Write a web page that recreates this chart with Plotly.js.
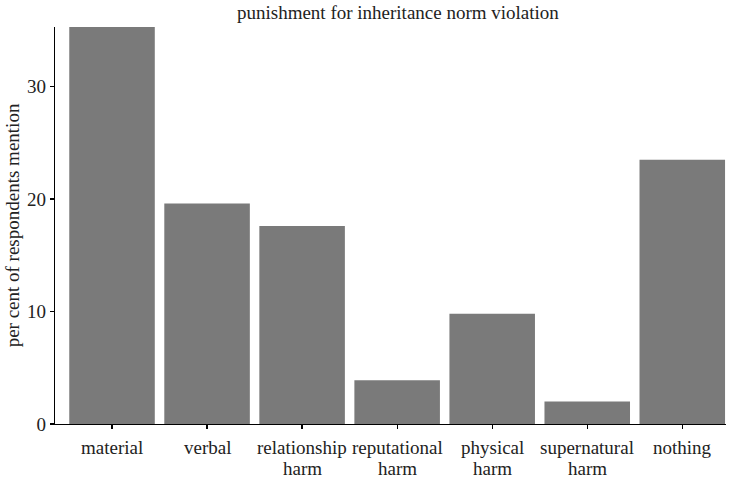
<!DOCTYPE html>
<html>
<head>
<meta charset="utf-8">
<script src="https://cdn.plot.ly/plotly-3.0.1.min.js"></script>
<style>html,body{margin:0;padding:0;background:#fff;}#chart{width:741px;height:478px;}</style>
</head>
<body>
<div id="chart"></div>
<script>
const categories = ["material", "verbal", "relationship harm", "reputational harm", "physical harm", "supernatural harm", "nothing"];
const labelLine1 = ["material", "verbal", "relationship", "reputational", "physical", "supernatural", "nothing"];
const labelLine2 = ["", "", "harm", "harm", "harm", "harm", ""];
const percentMention = [35.3, 19.6, 17.6, 3.9, 9.8, 2.0, 23.5];
const yTickVals = [0, 10, 20, 30];

const trace = {
  type: "bar",
  x: categories,
  y: percentMention,
  width: 0.9,
  marker: {color: "#7a7a7a", line: {width: 0}},
  hoverinfo: "none"
};

const fam = "Liberation Serif, Times New Roman, serif";
const txt = {family: fam, size: 19, color: "#222"};

const annotations = [];
categories.forEach((c, i) => {
  annotations.push({x: c, y: 0, xref: "x", yref: "y", text: labelLine1[i], showarrow: false,
    xanchor: "center", yanchor: "middle", yshift: -23, font: txt});
  if (labelLine2[i]) {
    annotations.push({x: c, y: 0, xref: "x", yref: "y", text: labelLine2[i], showarrow: false,
      xanchor: "center", yanchor: "middle", yshift: -44, font: txt});
  }
});

const layout = {
  width: 741, height: 478,
  margin: {l: 55, r: 15, t: 27, b: 53.5},
  paper_bgcolor: "#fff", plot_bgcolor: "#fff",
  font: txt,
  showlegend: false,
  title: {text: "punishment for inheritance norm violation", x: 0.537, xref: "container", xanchor: "center", y: 0.975, yanchor: "middle", font: txt},
  xaxis: {
    type: "category",
    range: [-0.6, 6.46],
    showline: true, linecolor: "#000", linewidth: 1.3,
    ticks: "outside", ticklen: 4, tickcolor: "#000", tickwidth: 1.3,
    showticklabels: false,
    showgrid: false, zeroline: false,
    fixedrange: true
  },
  yaxis: {
    range: [0, 35.3],
    tickvals: yTickVals,
    showline: true, linecolor: "#000", linewidth: 1.3,
    ticks: "outside", ticklen: 4, tickcolor: "#000", tickwidth: 1.3,
    showgrid: false, zeroline: false,
    tickfont: txt,
    title: {text: "per cent of respondents mention", font: txt, standoff: 2},
    fixedrange: true
  },
  annotations: annotations
};

Plotly.newPlot("chart", [trace], layout, {displayModeBar: false, staticPlot: true});
</script>
</body>
</html>
